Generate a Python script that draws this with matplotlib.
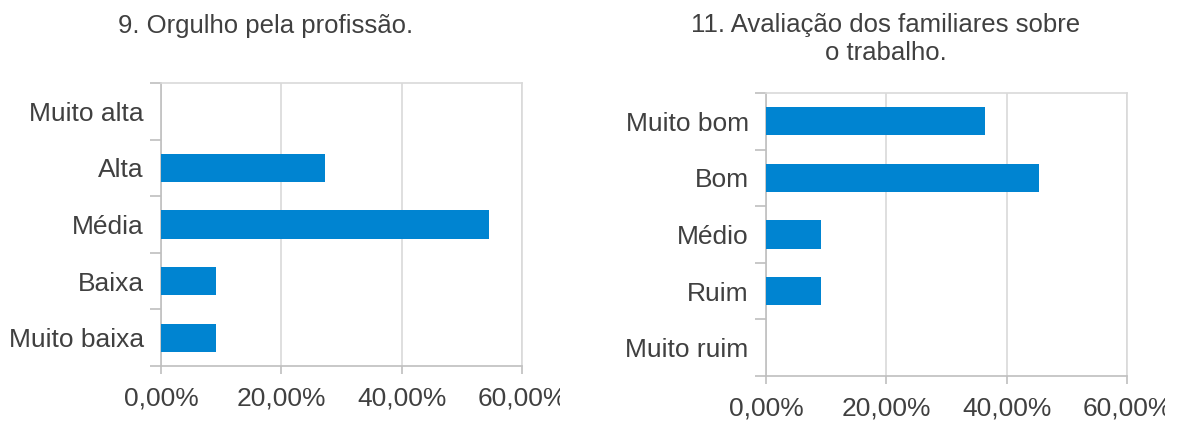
from matplotlib import pyplot as plt
from matplotlib.ticker import FuncFormatter
from matplotlib.transforms import Bbox, TransformedBbox
import numpy as np

plt.rcParams['font.family'] = ['Liberation Sans', 'DejaVu Sans']

# 9. Orgulho pela profissao
cats_left = ["Muito baixa", "Baixa", "Média", "Alta", "Muito alta"]
vals_left = [9.09, 9.09, 54.55, 27.27, 0.0]
title_left = "9. Orgulho pela profissão."

# 11. Avaliacao dos familiares
cats_right = ["Muito ruim", "Ruim", "Médio", "Bom", "Muito bom"]
vals_right = [0.0, 9.09, 9.09, 45.45, 36.36]
title_right = "11. Avaliação dos familiares sobre\no trabalho."

xticks = [0, 20, 40, 60]

bar_color = '#0084d1'
text_color = '#404040'
grid_color = '#d9d9d9'
axis_color = '#bfbfbf'

fig = plt.figure(figsize=[11.77, 4.22], dpi=100)
ax1 = fig.add_axes([161/1177, 56/422, 361/1177, 283/422])
ax2 = fig.add_axes([766/1177, 46/422, 361/1177, 283/422])

pct = FuncFormatter(lambda v, p: ("%.2f%%" % v).replace('.', ','))


def draw(ax, cats, vals, clip_x):
    y = np.arange(len(cats))
    ax.barh(y, vals, height=0.5, color=bar_color, zorder=3)
    ax.set_xlim(0, 60)
    ax.set_ylim(-0.5, len(cats) - 0.5)
    ax.set_xticks(xticks)
    ax.xaxis.set_major_formatter(pct)
    ax.set_yticks(y)
    ax.set_yticklabels(cats)
    ax.set_yticks(np.arange(len(cats) + 1) - 0.5, minor=True)
    ax.tick_params(axis='y', which='major', length=0, pad=12.5,
                   labelsize=19, labelcolor=text_color)
    ax.tick_params(axis='y', which='minor', length=8, width=1.2,
                   color=axis_color, direction='out')
    ax.tick_params(axis='x', length=6, width=1.2, color=axis_color,
                   labelsize=19, labelcolor=text_color, pad=9)
    ax.grid(axis='x', color=grid_color, linewidth=1.2, zorder=0)
    for s in ax.spines.values():
        s.set_color(grid_color)
        s.set_linewidth(1.2)
    ax.spines['left'].set_color(axis_color)
    ax.spines['bottom'].set_color(axis_color)
    ax.set_axisbelow(True)
    box = TransformedBbox(Bbox([[0, 0], [clip_x / 1177, 1]]), fig.transFigure)
    for lab in ax.get_xticklabels():
        lab.set_clip_box(box)
        lab.set_clip_on(True)


draw(ax1, cats_left, vals_left, 560)
draw(ax2, cats_right, vals_right, 1165)

fig.text(266/1177, 1 - 26/422, title_left, ha='center', va='center',
         fontsize=18.5, color=text_color)
fig.text(886/1177, 1 - 39/422, title_right, ha='center', va='center',
         fontsize=18.5, color=text_color, linespacing=1.2)

fig.savefig('out.png', dpi=100)
